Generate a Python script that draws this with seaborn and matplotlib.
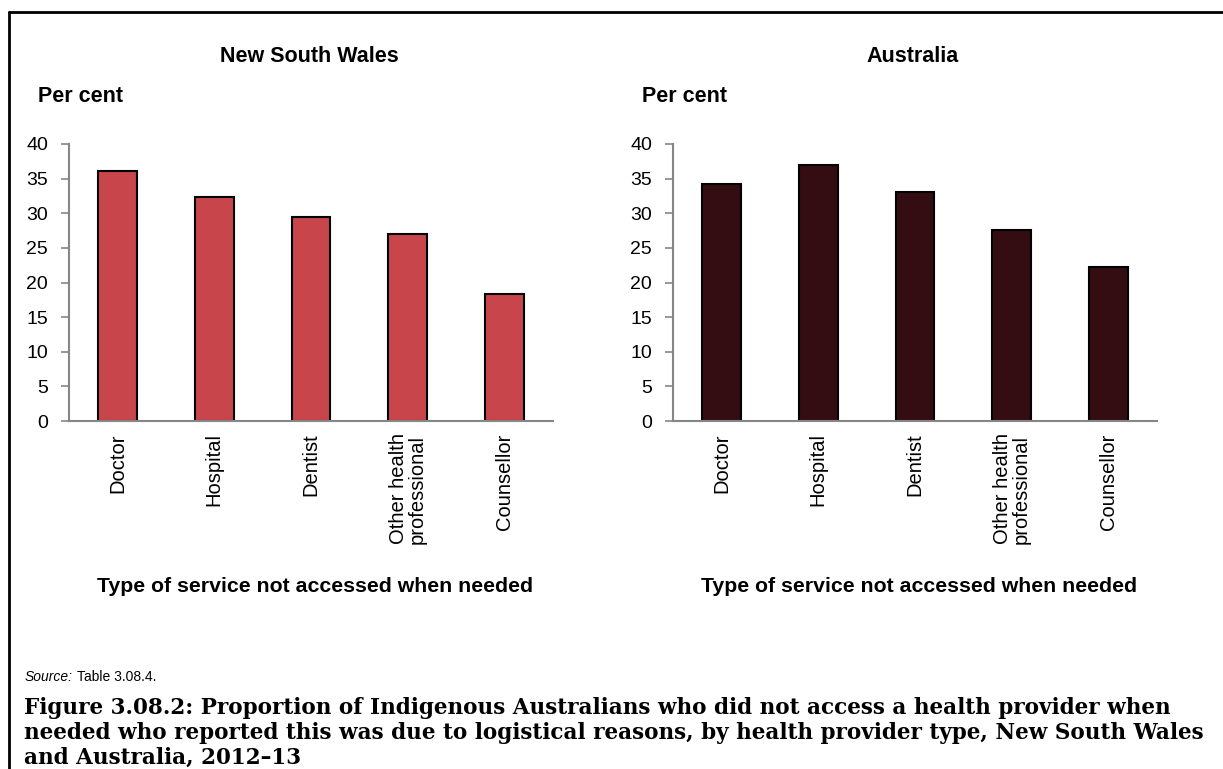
import matplotlib
matplotlib.use('Agg')
import matplotlib.pyplot as plt
import seaborn as sns
from matplotlib.lines import Line2D

# Data
services = ['Doctor', 'Hospital', 'Dentist', 'Other health\nprofessional', 'Counsellor']
nsw_values = [36.1, 32.4, 29.4, 27.0, 18.4]
aus_values = [34.2, 36.9, 33.0, 27.6, 22.3]
panel_titles = ['New South Wales', 'Australia']
panel_colors = ['#C8464B', '#330D11']
y_ticks = [0, 5, 10, 15, 20, 25, 30, 35, 40]

sns.set_style('white')
plt.rcParams['font.family'] = ['Liberation Sans', 'DejaVu Sans']
plt.rcParams['text.color'] = 'black'
plt.rcParams['xtick.labelcolor'] = 'black'
plt.rcParams['ytick.labelcolor'] = 'black'

W, H = 1223, 769
fig = plt.figure(figsize=(W / 100, H / 100), dpi=100)

# axes boxes in pixels: (left, right)
boxes = [(69, 553), (673, 1157)]
top_px, bottom_px = 144, 421
axis_grey = '#868686'

for (x0, x1), title, vals, color in zip(boxes, panel_titles, [nsw_values, aus_values], panel_colors):
    ax = fig.add_axes([x0 / W, 1 - bottom_px / H, (x1 - x0) / W, (bottom_px - top_px) / H])
    sns.barplot(x=services, y=vals, color=color, saturation=1, width=0.40,
                edgecolor='black', linewidth=1.5, ax=ax)
    ax.set_ylim(0, 40)
    ax.set_xlim(-0.5, 4.5)
    ax.set_yticks(y_ticks)
    ax.set_yticklabels([str(t) for t in y_ticks], fontsize=14, color='black')
    ax.set_xticks(range(len(services)))
    ax.set_xticklabels(services, rotation=90, fontsize=14.5, va='top', ha='center',
                       linespacing=0.95, color='black')
    ax.tick_params(axis='y', length=6, color=axis_grey, width=1.2, pad=9, left=True)
    ax.tick_params(axis='x', length=0, pad=9)
    for s in ['top', 'right']:
        ax.spines[s].set_visible(False)
    for s in ['left', 'bottom']:
        ax.spines[s].set_color(axis_grey)
        ax.spines[s].set_linewidth(1.5)
    ax.set_xlabel('')
    ax.set_ylabel('')

    cx = (x0 + x1) / 2
    fig.text((cx - 2) / W, 1 - 56 / H, title, ha='center', va='center',
             fontsize=15.5, fontweight='bold', color='black')
    fig.text((x0 - 31) / W, 1 - 96 / H, 'Per cent', ha='left', va='center',
             fontsize=15.5, fontweight='bold', color='black')
    fig.text((cx + 4) / W, 1 - 586 / H, 'Type of service not accessed when needed',
             ha='center', va='center', fontsize=15.3, fontweight='bold', color='black')

# source line
fig.text(25 / W, 1 - 677 / H, 'Source:', ha='left', va='center', fontsize=10,
         style='italic', color='black')
fig.text(77 / W, 1 - 677 / H, 'Table 3.08.4.', ha='left', va='center', fontsize=10,
         color='black')

caption = ('Figure 3.08.2: Proportion of Indigenous Australians who did not access a health provider when\n'
           'needed who reported this was due to logistical reasons, by health provider type, New South Wales\n'
           'and Australia, 2012\u201313')
fig.text(24 / W, 1 - 697 / H, caption, ha='left', va='top', fontsize=15.5,
         fontweight='bold', family=['DejaVu Serif'], linespacing=1.18, color='black')

# frame lines at top and left
fig.add_artist(Line2D([9 / W, 1], [1 - 12 / H, 1 - 12 / H], color='black', lw=2,
                      transform=fig.transFigure))
fig.add_artist(Line2D([9 / W, 9 / W], [0, 1 - 12 / H], color='black', lw=2,
                      transform=fig.transFigure))

fig.savefig('out.png', dpi=100)
